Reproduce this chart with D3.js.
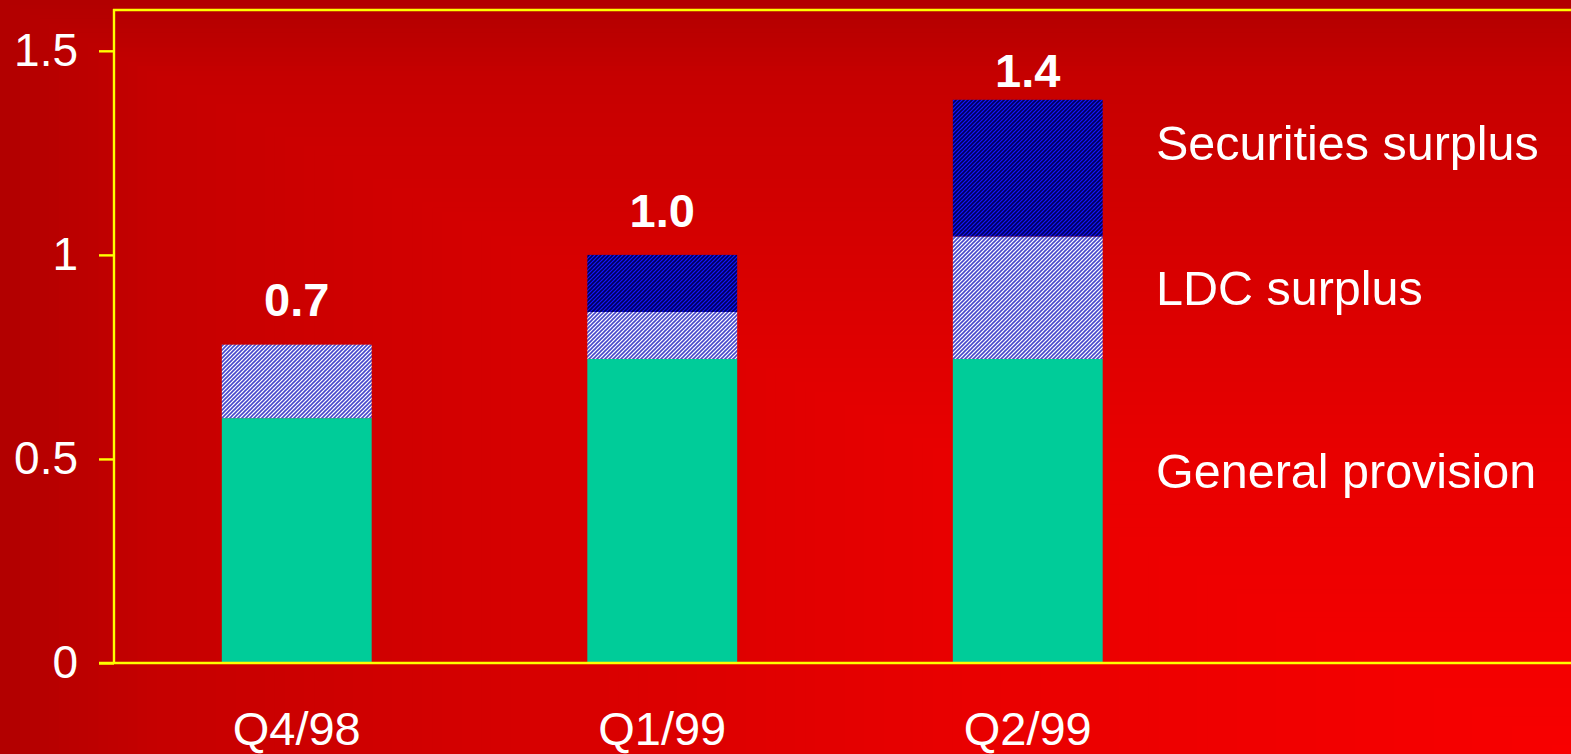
<!DOCTYPE html>
<html>
<head>
<meta charset="utf-8">
<script src="https://cdn.jsdelivr.net/npm/d3@7"></script>
<style>
  html, body { margin: 0; padding: 0; background: #b40000; overflow: hidden; }
  svg { display: block; }
  text { font-family: "Liberation Sans", Arial, sans-serif; fill: #ffffff; }
</style>
</head>
<body>
<svg id="chart" width="1571" height="754"></svg>
<script>
// Reserve components (bn) per quarter
const quarters = ["Q4/98", "Q1/99", "Q2/99"];
const generalProvision = [0.60, 0.745, 0.745];
const ldcSurplus = [0.18, 0.115, 0.30];
const securitiesSurplus = [0.00, 0.14, 0.335];
const totalLabels = ["0.7", "1.0", "1.4"];
const seriesNames = ["General provision", "LDC surplus", "Securities surplus"];
const yTicks = [0, 0.5, 1, 1.5];

const W = 1571, H = 754;
const svg = d3.select("#chart");
const defs = svg.append("defs");

// Background: shading that brightens toward the bottom-right corner
const shade = d3.scaleLinear()
  .domain([0, 0.4, 0.7, 0.9, 1])
  .range([248, 232, 212, 198, 178]);
const bg = svg.append("g");
const steps = d3.range(1, 0, -1 / 160);
bg.selectAll("rect").data(steps).join("rect")
  .attr("x", m => W - m * W)
  .attr("y", m => H - m * H)
  .attr("width", m => m * W + 1)
  .attr("height", m => m * H + 1)
  .attr("fill", m => `rgb(${Math.round(shade(m))},0,0)`);

// Hatch fills
function hatch(id, base, line) {
  const p = defs.append("pattern")
    .attr("id", id)
    .attr("patternUnits", "userSpaceOnUse")
    .attr("width", 4).attr("height", 4);
  p.append("rect").attr("width", 4).attr("height", 4).attr("fill", base);
  p.append("path")
    .attr("d", "M-1,1 l2,-2 M0,4 l4,-4 M3,5 l2,-2")
    .attr("stroke", line).attr("stroke-width", 1.6);
}
hatch("ldc", "#ffffff", "#4848cc");
hatch("sec", "#1414ff", "#00005a");
const fills = ["#00cc99", "url(#ldc)", "url(#sec)"];

// Scales: a fourth slot on the right holds the series names
const x = d3.scaleBand()
  .domain([...quarters, "names"])
  .range([114, 1576])
  .paddingInner(0.59)
  .paddingOuter(0.295);
const y = d3.scaleLinear().domain([0, 1.6]).range([663, 10]);

// Stack the components
const rows = quarters.map((q, i) => ({
  q,
  "General provision": generalProvision[i],
  "LDC surplus": ldcSurplus[i],
  "Securities surplus": securitiesSurplus[i]
}));
const stacked = d3.stack().keys(seriesNames)(rows);

const bars = svg.append("g");
stacked.forEach((layer, k) => {
  bars.append("g").attr("fill", fills[k])
    .selectAll("rect")
    .data(layer.filter(d => d[1] - d[0] > 0))
    .join("rect")
    .attr("x", d => x(d.data.q))
    .attr("y", d => y(d[1]))
    .attr("width", x.bandwidth())
    .attr("height", d => y(d[0]) - y(d[1]));
});

// Frame and axes
const yellow = "#ffff00";
const frame = svg.append("g").attr("stroke", yellow).attr("stroke-width", 2.4).attr("fill", "none");
frame.append("line").attr("x1", 114).attr("x2", 114).attr("y1", y(1.6) - 1).attr("y2", y(0));
frame.append("line").attr("x1", 113).attr("x2", W).attr("y1", y(1.6)).attr("y2", y(1.6));

const yAxis = d3.axisLeft(y).tickValues(yTicks).tickSize(15).tickPadding(21)
  .tickFormat(d => d === 0 ? "0" : d3.format("")(d));
const ya = svg.append("g").attr("transform", "translate(114,0)").call(yAxis);
ya.select(".domain").remove();
ya.selectAll(".tick line").attr("stroke", yellow).attr("stroke-width", 2.4);
ya.selectAll(".tick text")
  .attr("fill", "#fff")
  .style("font-family", "'Liberation Sans', Arial, sans-serif")
  .style("font-size", "46px");

// Baseline
svg.append("line")
  .attr("x1", 99).attr("x2", W)
  .attr("y1", y(0)).attr("y2", y(0))
  .attr("stroke", yellow).attr("stroke-width", 2.4);

// Category labels
svg.append("g").selectAll("text").data(quarters).join("text")
  .attr("x", d => x(d) + x.bandwidth() / 2)
  .attr("y", 745)
  .attr("text-anchor", "middle")
  .style("font-size", "47px")
  .text(d => d);

// Totals above bars
const totals = quarters.map((q, i) => generalProvision[i] + ldcSurplus[i] + securitiesSurplus[i]);
const lift = [29, 28, 13];
svg.append("g").selectAll("text").data(quarters).join("text")
  .attr("x", (d, i) => x(d) + x.bandwidth() / 2)
  .attr("y", (d, i) => y(totals[i]) - lift[i])
  .attr("text-anchor", "middle")
  .style("font-size", "47px")
  .style("font-weight", "bold")
  .text((d, i) => totalLabels[i]);

// Series names in the right-hand column
const nameAt = { "Securities surplus": 1.274, "LDC surplus": 0.919, "General provision": 0.47 };
svg.append("g").selectAll("text").data(seriesNames).join("text")
  .attr("x", 1156)
  .attr("y", d => y(nameAt[d]))
  .attr("dy", "0.35em")
  .style("font-size", "48.5px")
  .text(d => d);
</script>
</body>
</html>
